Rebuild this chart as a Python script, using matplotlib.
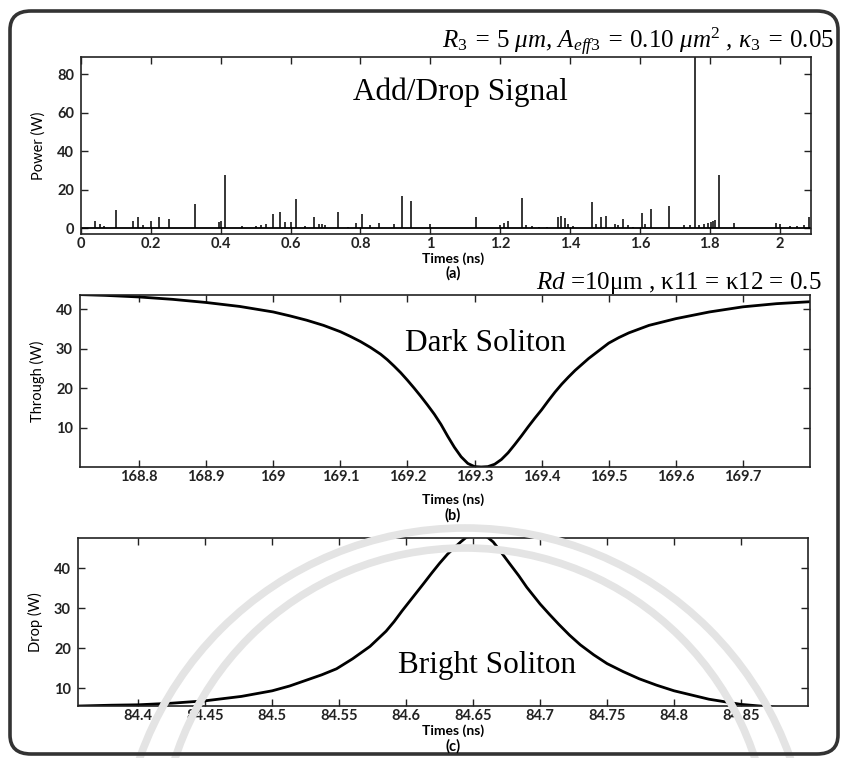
import matplotlib
matplotlib.use("Agg")
import matplotlib.pyplot as plt
from matplotlib.patches import FancyBboxPatch, Arc

plt.rcParams["mathtext.fontset"] = "custom"
plt.rcParams["mathtext.rm"] = "Liberation Serif"
plt.rcParams["mathtext.it"] = "Liberation Serif:italic"
plt.rcParams["mathtext.bf"] = "Liberation Serif:bold"

SANS = "Lato"
SERIF = "Liberation Serif"

# (a) Add/Drop signal: pulse times (ns) and peak power (W)
spike_t = [0.039, 0.053, 0.066, 0.101, 0.148, 0.164, 0.177, 0.200, 0.223, 0.252,
           0.325, 0.396, 0.402, 0.413, 0.461, 0.500, 0.515, 0.530, 0.550, 0.571,
           0.585, 0.600, 0.615, 0.640, 0.666, 0.680, 0.690, 0.700, 0.735, 0.765,
           0.787, 0.805, 0.828, 0.852, 0.895, 0.919, 0.946, 1.000, 1.130, 1.200,
           1.210, 1.223, 1.264, 1.275, 1.290, 1.310, 1.335, 1.365, 1.375, 1.386,
           1.395, 1.410, 1.463, 1.475, 1.490, 1.504, 1.528, 1.538, 1.552, 1.566,
           1.580, 1.605, 1.614, 1.631, 1.683, 1.725, 1.745, 1.758, 1.770, 1.785,
           1.795, 1.805, 1.810, 1.815, 1.826, 1.870, 1.990, 2.000, 2.030, 2.050,
           2.070, 2.083]
spike_p = [3.9, 2.0, 1.2, 9.3, 3.5, 6.0, 1.5, 3.5, 6.0, 4.7,
           12.8, 3.0, 3.8, 27.5, 1.2, 1.0, 1.5, 2.0, 7.4, 8.3,
           3.0, 3.0, 15.3, 1.2, 6.0, 2.0, 2.0, 1.5, 8.6, 0.8,
           2.5, 7.4, 1.5, 2.5, 2.0, 17.0, 14.4, 2.2, 5.6, 1.5,
           2.5, 3.5, 15.8, 1.5, 1.2, 0.8, 0.8, 6.0, 6.5, 5.5,
           2.0, 1.0, 13.5, 2.0, 6.0, 6.5, 2.0, 1.5, 5.0, 1.5,
           0.8, 7.9, 2.0, 10.2, 11.4, 1.5, 1.5, 95.0, 1.5, 2.0,
           2.5, 3.0, 4.0, 4.5, 27.6, 2.5, 2.6, 2.0, 1.0, 1.0,
           1.5, 6.0]
a_xticks = [0, 0.2, 0.4, 0.6, 0.8, 1, 1.2, 1.4, 1.6, 1.8, 2]
a_xticklabels = ["0", "0.2", "0.4", "0.6", "0.8", "1", "1.2", "1.4", "1.6", "1.8", "2"]
a_yticks = [0, 20, 40, 60, 80]

# (b) Dark soliton at the through port
dark_t = [168.712, 168.75, 168.80, 168.85, 168.90, 168.95, 169.00, 169.025, 169.05,
          169.075, 169.10, 169.115, 169.13, 169.145, 169.16, 169.17, 169.18, 169.19,
          169.20, 169.21, 169.22, 169.23, 169.24, 169.25, 169.26, 169.27, 169.28,
          169.29, 169.30, 169.31, 169.32, 169.33, 169.34, 169.35, 169.36, 169.37,
          169.38, 169.39, 169.40, 169.41, 169.42, 169.43, 169.44, 169.45, 169.46,
          169.47, 169.48, 169.49, 169.50, 169.515, 169.53, 169.56, 169.60, 169.65,
          169.70, 169.75, 169.80]
dark_p = [43.7, 43.5, 43.1, 42.5, 41.7, 40.7, 39.3, 38.3, 37.2,
          35.9, 34.3, 33.1, 31.8, 30.3, 28.6, 27.2, 25.6, 23.9,
          22.0, 20.0, 17.9, 15.7, 13.4, 10.8, 7.8, 5.0, 2.6,
          0.9, 0.1, 0.0, 0.1, 0.7, 1.9, 3.6, 5.7, 7.9,
          10.2, 12.4, 14.5, 16.8, 19.0, 21.0, 22.8, 24.5, 26.0,
          27.5, 28.8, 30.1, 31.4, 32.8, 34.0, 35.9, 37.6, 39.3,
          40.6, 41.4, 41.9]
b_xticks = [168.8, 168.9, 169.0, 169.1, 169.2, 169.3, 169.4, 169.5, 169.6, 169.7]
b_xticklabels = ["168.8", "168.9", "169", "169.1", "169.2", "169.3", "169.4",
                 "169.5", "169.6", "169.7"]
b_yticks = [10, 20, 30, 40]

# (c) Bright soliton at the drop port
bright_t = [84.356, 84.38, 84.40, 84.425, 84.45, 84.477, 84.50, 84.513, 84.525,
            84.537, 84.548, 84.56, 84.573, 84.585, 84.591, 84.597, 84.605, 84.613,
            84.619, 84.625, 84.631, 84.637, 84.641, 84.645, 84.652, 84.66, 84.665,
            84.671, 84.677, 84.684, 84.69, 84.70, 84.707, 84.714, 84.722, 84.73,
            84.74, 84.75, 84.762, 84.774, 84.787, 84.80, 84.826, 84.85, 84.878,
            84.90]
bright_p = [5.6, 5.8, 5.9, 6.3, 6.9, 8.0, 9.4, 10.6, 12.0,
            13.4, 14.9, 17.4, 20.5, 24.3, 26.7, 29.4, 32.8, 36.2,
            38.8, 41.3, 43.6, 45.5, 46.7, 47.8, 48.3, 48.0, 46.6,
            44.0, 41.3, 38.2, 35.3, 31.1, 28.5, 26.0, 23.3, 20.9,
            18.4, 16.2, 14.2, 12.4, 10.8, 9.4, 7.3, 6.0, 5.2,
            4.6]
c_xticks = [84.40, 84.45, 84.50, 84.55, 84.60, 84.65, 84.70, 84.75, 84.80, 84.85]
c_xticklabels = ["84.4", "84.45", "84.5", "84.55", "84.6", "84.65", "84.7",
                 "84.75", "84.8", "84.85"]
c_yticks = [10, 20, 30, 40]

W, H = 841, 758
fig = plt.figure(figsize=(W / 100, H / 100), dpi=100)
fig.patch.set_facecolor("white")


def frac(x0, y0, x1, y1):
    return [x0 / W, 1 - y1 / H, (x1 - x0) / W, (y1 - y0) / H]


# faint background seal arcs
for r, cx, cy in [(345, 465, 873), (305, 465, 853)]:
    fig.patches.append(Arc((cx / W, 1 - cy / H), 2 * r / W, 2 * r / H,
                           theta1=0, theta2=180, transform=fig.transFigure,
                           color="#e4e4e4", lw=5.5, zorder=0))

# rounded outer frame
fig.patches.append(FancyBboxPatch((10 / W, 1 - 754 / H), (828 / W), (743 / H),
                                  boxstyle="round,pad=0,rounding_size=0.025",
                                  transform=fig.transFigure, fill=False,
                                  ec="#333333", lw=2.6, zorder=1))


def style(ax, xticks, xlabels, yticks):
    ax.set_facecolor("none")
    ax.set_xticks(xticks)
    ax.set_xticklabels(xlabels)
    ax.set_yticks(yticks)
    ax.tick_params(direction="in", length=5, width=1, top=True, right=True,
                   labelsize=10.5, colors="#222222")
    ax.tick_params(axis="x", pad=2.5)
    ax.tick_params(axis="y", pad=5)
    for lab in ax.get_xticklabels() + ax.get_yticklabels():
        lab.set_fontfamily(SANS)
        lab.set_fontweight("bold")
    for s in ax.spines.values():
        s.set_linewidth(1.2)
        s.set_color("#222222")


def xlab(ax, y):
    ax.set_xlabel("Times (ns)", fontfamily=SANS, fontsize=10, fontweight="bold")
    ax.xaxis.set_label_coords(453 / W, 1 - y / H, transform=fig.transFigure)
    ax.xaxis.label.set_va("center")


def caption(y, s):
    fig.text(453 / W, 1 - y / H, s, ha="center", va="center", fontfamily=SANS,
             fontsize=10.5, fontweight="bold")


# (a)
ax1 = fig.add_axes(frac(81, 57, 811, 234))
ax1.vlines(spike_t, 0, spike_p, color="black", lw=1.1)
ax1.plot([0, 2.09], [0.2, 0.2], color="black", lw=1.3)
ax1.set_xlim(0, 2.09)
ax1.set_ylim(-3, 89)
style(ax1, a_xticks, a_xticklabels, a_yticks)
xlab(ax1, 259)
ax1.set_ylabel("Power (W)", fontfamily=SANS, fontsize=10.5, labelpad=8)
ax1.text(0.52, 0.80, "Add/Drop Signal", transform=ax1.transAxes, ha="center",
         va="center", fontfamily=SERIF, fontsize=22.5)
caption(273, "(a)")

# (b)
ax2 = fig.add_axes(frac(80, 295, 810, 467))
ax2.plot(dark_t, dark_p, color="black", lw=2.0, solid_joinstyle="round")
ax2.set_xlim(168.712, 169.80)
ax2.set_ylim(0, 43.6)
style(ax2, b_xticks, b_xticklabels, b_yticks)
xlab(ax2, 500)
ax2.set_ylabel("Through (W)", fontfamily=SANS, fontsize=10.5, labelpad=8)
ax2.text(0.555, 0.72, "Dark Soliton", transform=ax2.transAxes, ha="center",
         va="center", fontfamily=SERIF, fontsize=22.5)
caption(515, "(b)")

# (c)
ax3 = fig.add_axes(frac(78, 538, 808, 706))
ax3.plot(bright_t, bright_p, color="black", lw=2.0, solid_joinstyle="round")
ax3.set_xlim(84.355, 84.90)
ax3.set_ylim(5.6, 47.6)
style(ax3, c_xticks, c_xticklabels, c_yticks)
xlab(ax3, 731)
ax3.set_ylabel("Drop (W)", fontfamily=SANS, fontsize=10.5, labelpad=8)
ax3.text(0.56, 0.24, "Bright Soliton", transform=ax3.transAxes, ha="center",
         va="center", fontfamily=SERIF, fontsize=22.5)
caption(746, "(c)")

# parameter notes
fig.text(834 / W, 1 - 42 / H,
         r"$R_3$ = $5$ μm, $A_{eff3}$ = $0.10$ μm$^2$ , κ$_3$ = $0.05$",
         ha="right", va="center", fontfamily=SERIF, fontstyle="italic",
         fontsize=18)
fig.text(822 / W, 1 - 283 / H, r"$Rd$ =10μm , κ11 = κ12 = $0.5$",
         ha="right", va="center", fontfamily=SERIF, fontsize=18)

fig.savefig("out.png", dpi=100, facecolor="white")
